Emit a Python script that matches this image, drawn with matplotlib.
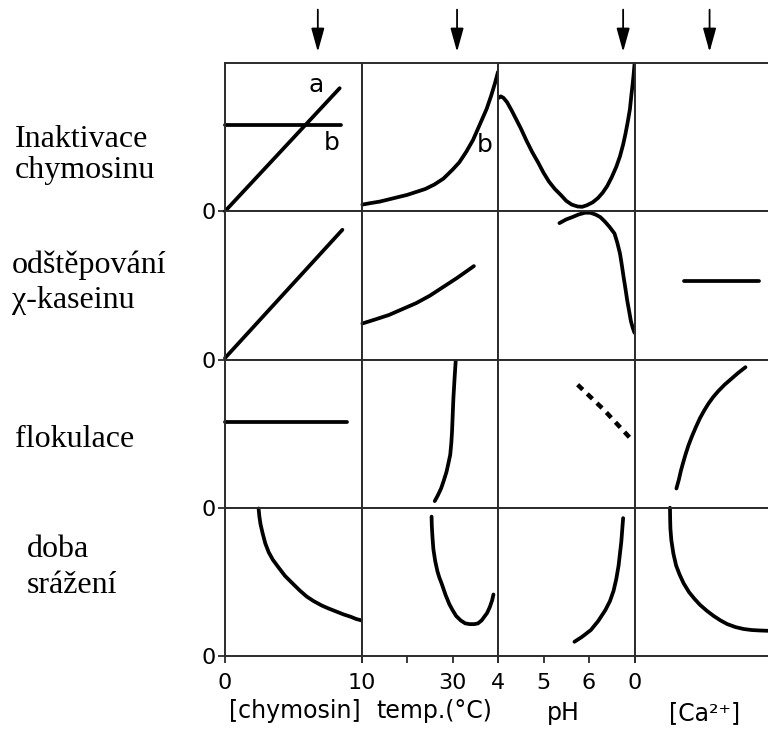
import matplotlib
matplotlib.use('Agg')
import matplotlib.pyplot as plt

plt.rcParams['font.family'] = ['DejaVu Sans']

# ---- axes description -------------------------------------------------
col_labels = ['[chymosin]', 'temp.(°C)', 'pH', '[Ca²⁺]']
col_limits = [(0, 10), (10, 40), (4, 7), (0, 10)]
col_ticks = [[0, 10], [10, 20, 30, 40], [4, 5, 6, 7], [0]]
col_ticklabels = [['0', '10'], ['', '', '30', ''], ['4', '5', '6', ''], ['0']]
optimum_marks = [6.8, 31.0, 6.75, 5.5]

row_label_lines = [['Inaktivace', 'chymosinu'],
                   ['odštěpování', 'χ-kaseinu'],
                   ['flokulace'],
                   ['doba', 'srážení']]

# ---- curves (relative response, 0..1) ---------------------------------
# row 1: inactivation of chymosin
inact_chym_a_x = [0, 8.4]
inact_chym_a_y = [0.0, 0.83]
inact_chym_b_x = [0, 8.5]
inact_chym_b_y = [0.58, 0.58]
inact_temp_x = [10.2, 12, 14, 16, 18, 20, 22, 24, 26, 28, 30, 31.5, 33, 34.5,
                35.5, 36.5, 37.5, 38.5, 39.3, 40]
inact_temp_y = [0.045, 0.055, 0.065, 0.08, 0.095, 0.11, 0.13, 0.15, 0.18, 0.22,
                0.28, 0.33, 0.40, 0.48, 0.55, 0.62, 0.69, 0.78, 0.86, 0.94]
inact_ph_x = [4.02, 4.06, 4.12, 4.2, 4.3, 4.4, 4.5, 4.62, 4.75, 4.88, 5.0,
              5.12, 5.25, 5.38, 5.5, 5.62, 5.75, 5.85, 5.95, 6.08, 6.2, 6.3, 6.4,
              6.5, 6.6, 6.68, 6.75, 6.8, 6.85, 6.9, 6.93, 6.96, 6.98, 7.0]
inact_ph_y = [0.765, 0.775, 0.765, 0.735, 0.68, 0.62, 0.56, 0.48, 0.40, 0.33,
              0.26, 0.20, 0.15, 0.11, 0.07, 0.045, 0.032, 0.03, 0.04, 0.06, 0.09,
              0.125, 0.17, 0.23, 0.30, 0.37, 0.45, 0.52, 0.60, 0.69, 0.78, 0.86,
              0.92, 0.99]

# row 2: kappa-casein cleavage
cleave_chym_x = [0, 8.6]
cleave_chym_y = [0.01, 0.875]
cleave_temp_x = [10.2, 13, 16, 19, 22, 25, 28, 31, 34.7]
cleave_temp_y = [0.243, 0.27, 0.30, 0.34, 0.38, 0.43, 0.49, 0.55, 0.63]
cleave_ph_x = [5.35, 5.5, 5.63, 5.77, 5.91, 6.03, 6.15, 6.25, 6.35, 6.45, 6.56,
               6.62, 6.68, 6.72, 6.76, 6.8, 6.84, 6.88, 6.92, 6.96, 7.0]
cleave_ph_y = [0.92, 0.945, 0.96, 0.978, 0.99, 0.99, 0.977, 0.96, 0.93, 0.895,
               0.85, 0.79, 0.716, 0.64, 0.557, 0.48, 0.398, 0.33, 0.26, 0.215, 0.18]
cleave_ca_x = [3.6, 9.1]
cleave_ca_y = [0.53, 0.53]

# row 3: flocculation
floc_chym_x = [0, 8.95]
floc_chym_y = [0.578, 0.578]
floc_temp_x = [26.1, 26.8, 27.5, 28.1, 28.7, 29.1, 29.5, 29.75, 29.9, 30.05,
               30.2, 30.45, 30.7]
floc_temp_y = [0.045, 0.085, 0.131, 0.185, 0.244, 0.30, 0.357, 0.44, 0.515,
               0.63, 0.74, 0.87, 0.99]
floc_ph_x = [5.75, 6.33, 6.92]
floc_ph_y = [0.83, 0.66, 0.465]
floc_ca_x = [3.07, 3.25, 3.4, 3.55, 3.73, 3.95, 4.2, 4.5, 4.8, 5.1, 5.4, 5.75,
             6.13, 6.6, 7.1, 7.6, 8.13]
floc_ca_y = [0.13, 0.19, 0.25, 0.30, 0.357, 0.42, 0.48, 0.545, 0.605, 0.655,
             0.70, 0.745, 0.786, 0.83, 0.87, 0.91, 0.948]

# row 4: clotting time
clot_chym_x = [2.46, 2.52, 2.6, 2.75, 2.95, 3.2, 3.5, 3.9, 4.4, 5.0, 5.5, 6.0,
               6.5, 7.1, 7.6, 8.15, 8.7, 9.2, 9.6, 10]
clot_chym_y = [0.995, 0.94, 0.89, 0.83, 0.76, 0.70, 0.65, 0.60, 0.54, 0.485,
               0.44, 0.40, 0.37, 0.34, 0.32, 0.30, 0.28, 0.265, 0.25, 0.24]
clot_temp_x = [25.4, 25.45, 25.6, 25.8, 26.2, 26.7, 27.1, 27.6, 28.5, 29.3, 30.0,
               30.8, 31.8, 32.8, 33.8, 34.8, 35.6, 36.4, 37.0, 37.6, 38.2, 38.7, 39]
clot_temp_y = [0.94, 0.88, 0.80, 0.72, 0.64, 0.57, 0.53, 0.49, 0.41, 0.35, 0.31,
               0.27, 0.24, 0.22, 0.215, 0.215, 0.22, 0.24, 0.265, 0.29, 0.33,
               0.375, 0.415]
clot_ph_x = [5.68, 5.85, 6.04, 6.2, 6.36, 6.46, 6.54, 6.6, 6.65, 6.68, 6.71,
             6.73, 6.75]
clot_ph_y = [0.096, 0.13, 0.175, 0.235, 0.31, 0.37, 0.44, 0.52, 0.61, 0.69,
             0.77, 0.85, 0.93]
clot_ca_x = [2.6, 2.61, 2.63, 2.7, 2.85, 3.05, 3.3, 3.6, 4.0, 4.4, 4.8, 5.3,
             5.8, 6.3, 6.8, 7.4, 8.0, 8.6, 9.2, 9.8]
clot_ca_y = [1.0, 0.93, 0.86, 0.78, 0.69, 0.61, 0.55, 0.49, 0.43, 0.385, 0.345,
             0.305, 0.27, 0.24, 0.215, 0.195, 0.182, 0.175, 0.172, 0.17]

# ---- figure -----------------------------------------------------------
W, H = 768, 731
fig = plt.figure(figsize=(W / 100, H / 100), dpi=100)

left_px, right_px, top_px, bottom_px = 225, 771, 63, 656
gs = fig.add_gridspec(4, 4, left=left_px / W, right=right_px / W,
                      top=1 - top_px / H, bottom=1 - bottom_px / H,
                      wspace=0, hspace=0)

axes = [[fig.add_subplot(gs[r, c]) for c in range(4)] for r in range(4)]

spine_color = '#2b2b2b'
curve_kw = dict(color='black', lw=2.7, solid_capstyle='round',
                solid_joinstyle='round', clip_on=False)

for r in range(4):
    for c in range(4):
        ax = axes[r][c]
        ax.set_xlim(*col_limits[c])
        ax.set_ylim(0, 1)
        for s in ax.spines.values():
            s.set_color(spine_color)
            s.set_linewidth(1.4)
        if r == 3:
            ax.set_xticks(col_ticks[c])
            ax.set_xticklabels(col_ticklabels[c])
            ax.tick_params(axis='x', direction='out', length=5, width=1.3,
                           color=spine_color, labelsize=16, pad=7)
        else:
            ax.set_xticks([])
        if c == 0:
            ax.set_yticks([0])
            ax.set_yticklabels(['0'])
            ax.tick_params(axis='y', direction='out', length=5, width=1.3,
                           color=spine_color, labelsize=16, pad=2)
        else:
            ax.set_yticks([])

# row 1
ax = axes[0][0]
ax.plot(inact_chym_a_x, inact_chym_a_y, **curve_kw)
ax.plot(inact_chym_b_x, inact_chym_b_y, **curve_kw)
ax.text(6.7, 0.85, 'a', fontsize=18, ha='center', va='center')
ax.text(7.8, 0.46, 'b', fontsize=18, ha='center', va='center')
ax = axes[0][1]
ax.plot(inact_temp_x, inact_temp_y, **curve_kw)
ax.text(37.0, 0.45, 'b', fontsize=18, ha='center', va='center')
axes[0][2].plot(inact_ph_x, inact_ph_y, **curve_kw)

# row 2
axes[1][0].plot(cleave_chym_x, cleave_chym_y, **curve_kw)
axes[1][1].plot(cleave_temp_x, cleave_temp_y, **curve_kw)
axes[1][2].plot(cleave_ph_x, cleave_ph_y, **curve_kw)
axes[1][3].plot(cleave_ca_x, cleave_ca_y, **curve_kw)

# row 3
axes[2][0].plot(floc_chym_x, floc_chym_y, **curve_kw)
axes[2][1].plot(floc_temp_x, floc_temp_y, **curve_kw)
axes[2][2].plot(floc_ph_x, floc_ph_y, color='black', lw=3.2,
                linestyle=(0, (1.6, 1.4)), dash_capstyle='butt', clip_on=False)
axes[2][3].plot(floc_ca_x, floc_ca_y, **curve_kw)

# row 4
axes[3][0].plot(clot_chym_x, clot_chym_y, **curve_kw)
axes[3][1].plot(clot_temp_x, clot_temp_y, **curve_kw)
axes[3][2].plot(clot_ph_x, clot_ph_y, **curve_kw)
axes[3][3].plot(clot_ca_x, clot_ca_y, **curve_kw)

# optimum arrows above the top row
for c in range(4):
    ax = axes[0][c]
    ax.annotate('', xy=(optimum_marks[c], 1.075), xytext=(optimum_marks[c], 1.36),
                xycoords=ax.get_xaxis_transform(),
                textcoords=ax.get_xaxis_transform(),
                arrowprops=dict(arrowstyle='-|>,head_length=0.9,head_width=0.25',
                                lw=1.3, color='black', mutation_scale=16,
                                shrinkA=0, shrinkB=0))

# quantity names under the columns
col_label_pos = [(295, 718), (434, 718), (563, 720), (705, 720)]
for text, (x, y) in zip(col_labels, col_label_pos):
    fig.text(x / W, 1 - y / H, text, fontsize=17, ha='center', va='baseline')

# row titles on the left
row_label_pos = [[(15, 147), (15, 178)],
                 [(12, 273), (12, 308)],
                 [(15, 447)],
                 [(27, 557), (27, 593)]]
for lines, pos in zip(row_label_lines, row_label_pos):
    for text, (x, y) in zip(lines, pos):
        fig.text(x / W, 1 - y / H, text, fontsize=23, ha='left', va='baseline',
                 family=['Liberation Serif', 'DejaVu Serif'])

fig.savefig('out.png', dpi=100)
